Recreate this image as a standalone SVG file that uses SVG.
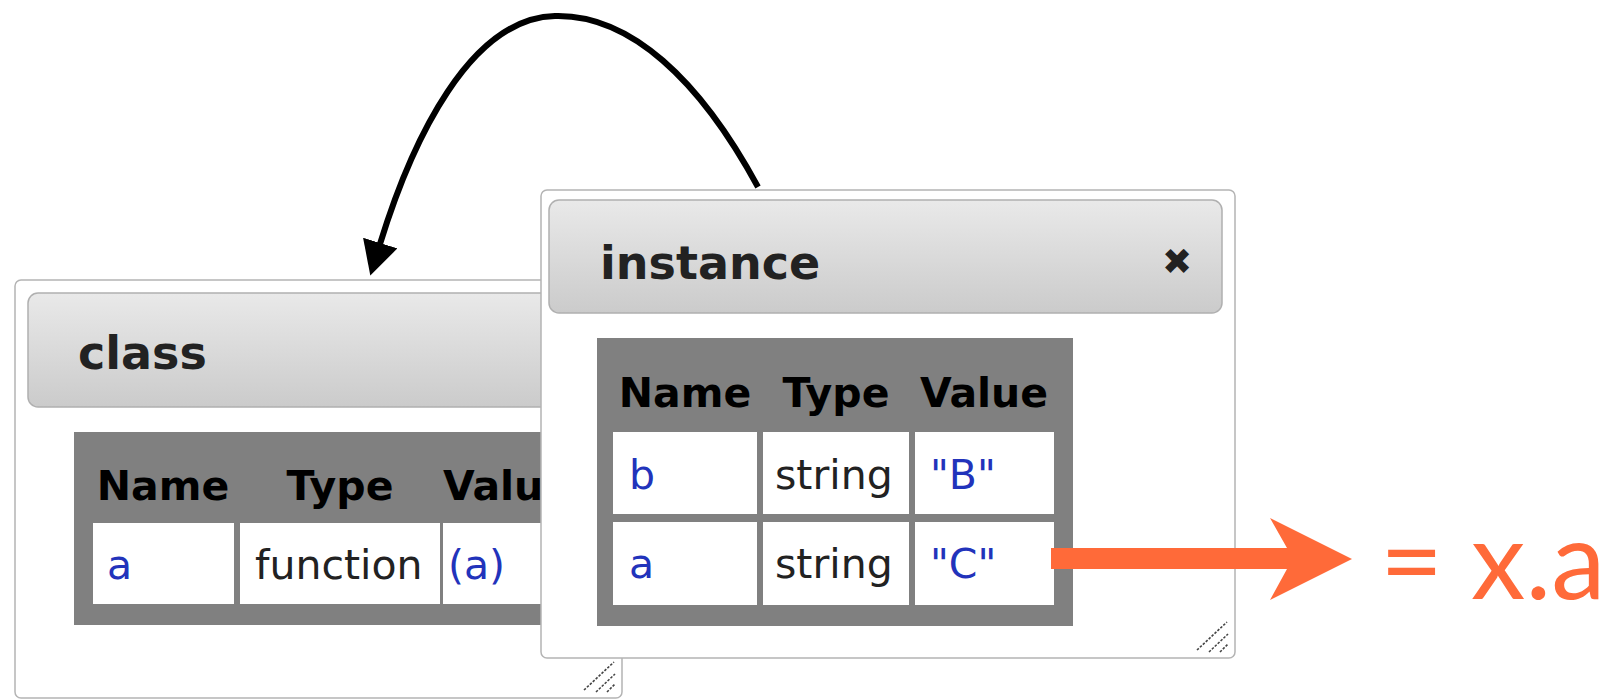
<svg xmlns="http://www.w3.org/2000/svg" width="1613" height="700" viewBox="0 0 1613 700">
<defs>
<linearGradient id="hdr" x1="0" y1="0" x2="0" y2="1">
<stop offset="0" stop-color="#e9e9e9"/>
<stop offset="1" stop-color="#cbcbcb"/>
</linearGradient>
<marker id="blackHead" markerUnits="userSpaceOnUse" markerWidth="34" markerHeight="36" viewBox="0 0 34 36" refX="1" refY="18" orient="auto">
<path d="M0,0 L34,18 L0,36 Z" fill="#000"/>
</marker>
<clipPath id="classClip"><rect x="0" y="0" width="541" height="700"/></clipPath>
</defs>
<style>
.panel{fill:#fff;stroke:#b4b4b4;stroke-width:1.5}
.hdr{fill:url(#hdr);stroke:#b0b0b0;stroke-width:1.5}
.title{font-family:"DejaVu Sans",Verdana,sans-serif;font-weight:bold;font-size:46px;fill:#222}
.grid{fill:#808080}
.cell{fill:#fff}
.th{font-family:"DejaVu Sans",Verdana,sans-serif;font-weight:bold;font-size:41px;fill:#000;text-anchor:middle}
.td{font-family:"DejaVu Sans",Verdana,sans-serif;font-size:41px;fill:#222}
.blue{fill:#2233bb}
.grip{stroke:#444;stroke-width:1.6;stroke-dasharray:2.5 1.5;fill:none}
</style>

<g id="class-panel">
<rect class="panel" x="15" y="280" width="607" height="418" rx="6"/>
<g clip-path="url(#classClip)">
<rect class="hdr" x="28" y="293" width="580" height="114" rx="10"/>
<text class="title" x="78" y="369">class</text>
<rect class="grid" x="74" y="432" width="520" height="193"/>
<text class="th" x="163" y="500">Name</text>
<text class="th" x="340" y="500">Type</text>
<text class="th" x="507" y="500">Value</text>
<rect class="cell" x="93" y="523" width="141" height="81"/>
<rect class="cell" x="240" y="523" width="200" height="81"/>
<rect class="cell" x="443" y="523" width="132" height="81"/>
<text class="td blue" x="107" y="579">a</text>
<text class="td" x="255" y="579">function</text>
<text class="td blue" x="448" y="579">(a)</text>
</g>
<path class="grip" d="M584,690 L614,662 M596,692 L615,674 M607,692 L615,684"/>
</g>

<g id="instance-panel">
<rect class="panel" x="541" y="190" width="694" height="468" rx="6"/>
<rect class="hdr" x="549" y="200" width="673" height="113" rx="10"/>
<text class="title" x="600" y="279">instance</text>
<text x="1177" y="274" font-family="DejaVu Sans, sans-serif" font-weight="bold" font-size="36" fill="#222" text-anchor="middle">✖</text>
<rect class="grid" x="597" y="338" width="476" height="288"/>
<text class="th" x="685" y="407">Name</text>
<text class="th" x="836" y="407">Type</text>
<text class="th" x="984" y="407">Value</text>
<rect class="cell" x="613" y="432" width="144" height="82"/>
<rect class="cell" x="763" y="432" width="146" height="82"/>
<rect class="cell" x="915" y="432" width="139" height="82"/>
<rect class="cell" x="613" y="522" width="144" height="83"/>
<rect class="cell" x="763" y="522" width="146" height="83"/>
<rect class="cell" x="915" y="522" width="139" height="83"/>
<text class="td blue" x="629" y="489">b</text>
<text class="td" x="775" y="489">string</text>
<text class="td blue" x="930" y="489">"B"</text>
<text class="td blue" x="629" y="578">a</text>
<text class="td" x="775" y="578">string</text>
<text class="td blue" x="930" y="578">"C"</text>
<path class="grip" d="M1197,650 L1227,622 M1209,652 L1228,634 M1220,652 L1228,644"/>
</g>

<g id="connectors">
<path d="M758,187 C700,80 630,14 555,16 C470,18 412,140 380,244" fill="none" stroke="#000" stroke-width="6" marker-end="url(#blackHead)"/>
<path d="M1051,548 L1287,548 L1270,518 L1352,559 L1270,600 L1287,569 L1051,569 Z" fill="#ff6a39"/>
</g>

<g id="result-label">
<text x="1380" y="599" font-family="Lato, 'Open Sans', sans-serif" font-size="109" fill="#ff6a39">= x.a</text>
</g>
</svg>
